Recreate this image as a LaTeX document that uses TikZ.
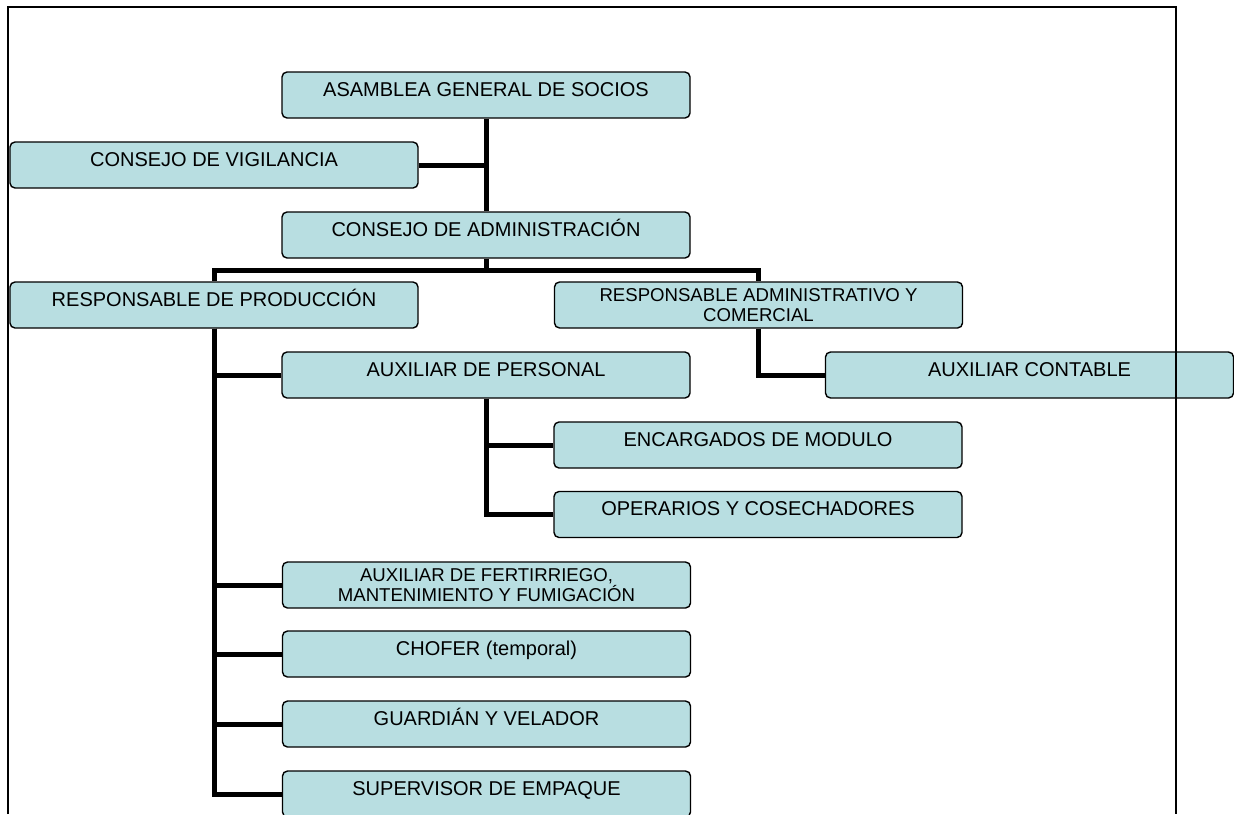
\documentclass[tikz,border=0pt]{standalone}
\usepackage{fontspec}
\setmainfont{Liberation Sans}
\definecolor{boxfill}{RGB}{184,222,225}

\begin{document}
\begin{tikzpicture}[
    x=0.5pt, y=-0.5pt,
    link/.style={line width=2.5pt},
    frame/.style={line width=1pt},
    unit/.style={rectangle, draw, line width=0.7pt, fill=boxfill, rounded corners=2.5pt, minimum width=204pt, minimum height=23pt, inner xsep=2pt, inner ysep=4pt, text height=8pt, text depth=7pt, font=\fontsize{10}{12}\selectfont},
    unit2/.style={rectangle, draw, line width=0.7pt, fill=boxfill, rounded corners=2.5pt, minimum width=204pt, minimum height=23pt, inner xsep=2pt, inner ysep=2pt, align=center, font=\fontsize{9.3}{10.3}\selectfont}
]
\useasboundingbox (0,0) rectangle (1234,814);

% Top levels
\node[unit] (asam) at (486, 95) {ASAMBLEA GENERAL DE SOCIOS};
\node[unit] (vig) at (214, 165) {CONSEJO DE VIGILANCIA};
\node[unit] (adm) at (486, 235) {CONSEJO DE ADMINISTRACIÓN};

% Responsables
\node[unit] (prod) at (214, 305) {RESPONSABLE DE PRODUCCIÓN};
\node[unit2] (resp) at (758.5, 305) {RESPONSABLE ADMINISTRATIVO Y\\COMERCIAL};

% Auxiliares
\node[unit] (auxp) at (486, 375) {AUXILIAR DE PERSONAL};
\node[unit] (auxc) at (1029.5, 375) {AUXILIAR CONTABLE};
\node[unit] (enc) at (758, 445) {ENCARGADOS DE MODULO};
\node[unit] (oper) at (758, 514.5) {OPERARIOS Y COSECHADORES};
\node[unit2] (fert) at (486.5, 585) {AUXILIAR DE FERTIRRIEGO,\\MANTENIMIENTO Y FUMIGACIÓN};
\node[unit] (chof) at (486.5, 654) {CHOFER (temporal)};
\node[unit] (guard) at (486.5, 724) {GUARDIÁN Y VELADOR};
\node[unit] (sup) at (486.5, 794) {SUPERVISOR DE EMPAQUE};

% Connections
\draw[link] (asam.south) -- (adm.north);
\draw[link] (vig.east) -- (vig.east -| asam.south);
\coordinate (split) at (486, 270);
\draw[link] (adm.south) -- (split);
\draw[link] (prod.north) |- (split) -| (resp.north);

\foreach \sub in {auxp, fert, chof, guard, sup}
    \draw[link] (prod.south) |- (\sub.west);
\draw[link] (resp.south) |- (auxc.west);
\foreach \sub in {enc, oper}
    \draw[link] (auxp.south) |- (\sub.west);

% Page frame
\draw[frame] (8, 814) -- (8, 7) -- (1176, 7) -- (1176, 814);

\end{tikzpicture}
\end{document}
